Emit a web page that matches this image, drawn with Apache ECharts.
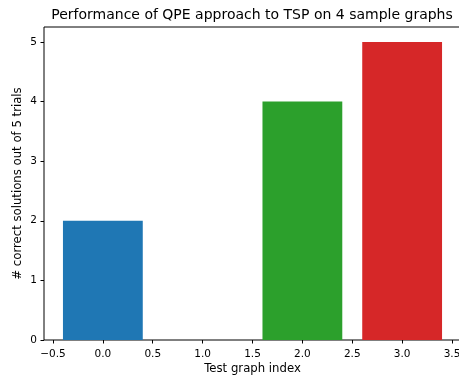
<!DOCTYPE html>
<html>
<head>
<meta charset="utf-8">
<script src="https://cdn.jsdelivr.net/npm/echarts@6/dist/echarts.min.js"></script>
<style>html,body{margin:0;padding:0;background:#fff}#c{width:459px;height:376px}</style>
</head>
<body>
<div id="c"></div>
<script>
var graphIndex = [0, 1, 2, 3];
var correctCounts = [2, 0, 4, 5];
var barColors = ['#1f77b4', '#ff7f0e', '#2ca02c', '#d62728'];
var xTicks = [-0.5, 0, 0.5, 1, 1.5, 2, 2.5, 3, 3.5];
var yTicks = [0, 1, 2, 3, 4, 5];
var titleText = 'Performance of QPE approach to TSP on 4 sample graphs';
var xLabel = 'Test graph index';
var yLabel = '# correct solutions out of 5 trials';

var FONT = '"DejaVu Sans", sans-serif';
var chart = echarts.init(document.getElementById('c'), null, {renderer: 'canvas'});
var data = graphIndex.map(function (g, i) { return [g, correctCounts[i]]; });

chart.setOption({
  animation: false,
  title: {
    text: titleText, left: 247, top: 3, textAlign: 'center',
    textStyle: {fontFamily: FONT, fontSize: 14, fontWeight: 'normal', color: '#000'}
  },
  grid: {left: 44, top: 27, right: -2, bottom: 36, containLabel: false, outerBoundsMode: 'none',
    show: true, borderColor: '#000', borderWidth: 1, backgroundColor: 'transparent'},
  xAxis: {
    type: 'value', min: -0.59, max: 3.59,
    name: xLabel, nameLocation: 'middle', nameGap: 23, nameMoveOverlap: false,
    nameTextStyle: {fontFamily: FONT, fontSize: 11.7, color: '#000'},
    axisLine: {show: false, onZero: false},
    axisTick: {show: true, inside: false, length: 3.5, customValues: xTicks, lineStyle: {color: '#000', width: 1}},
    axisLabel: {customValues: xTicks, margin: 9, fontFamily: FONT, fontSize: 10.5, color: '#000',
      formatter: function (v) { var s = Math.abs(v).toFixed(1); return v < 0 ? '\u2212' + s : s; }},
    splitLine: {show: false}
  },
  yAxis: {
    type: 'value', min: 0, max: 5.25,
    name: yLabel, nameLocation: 'middle', nameGap: 20, nameMoveOverlap: false,
    nameTextStyle: {fontFamily: FONT, fontSize: 11.7, color: '#000'},
    axisLine: {show: false, onZero: false},
    axisTick: {show: true, inside: false, length: 3.5, customValues: yTicks, lineStyle: {color: '#000', width: 1}},
    axisLabel: {customValues: yTicks, margin: 7, fontFamily: FONT, fontSize: 10.5, color: '#000'},
    splitLine: {show: false}
  },
  series: [{
    type: 'custom',
    data: data,
    renderItem: function (params, api) {
      var x = api.value(0), y = api.value(1);
      var p0 = api.coord([x - 0.4, y]);
      var p1 = api.coord([x + 0.4, 0]);
      return {
        type: 'rect',
        shape: {x: p0[0], y: p0[1], width: p1[0] - p0[0], height: p1[1] - p0[1]},
        style: {fill: barColors[params.dataIndex]}
      };
    },
    z: 1
  }]
});
</script>
</body>
</html>
